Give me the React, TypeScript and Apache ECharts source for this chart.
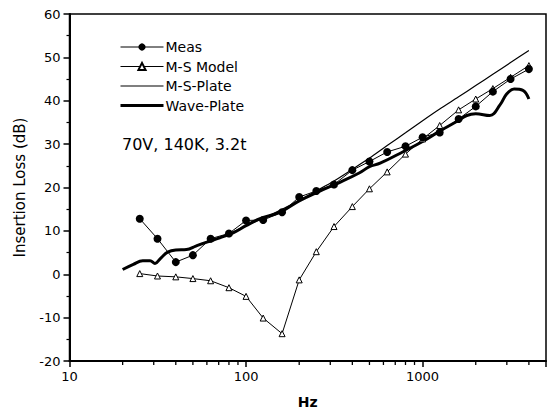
import React, { useEffect, useRef } from "react";
import * as echarts from "echarts";

const measFreq = [25, 31.5, 40, 50, 63, 80, 100, 125, 160, 200, 250, 315, 400, 500, 630, 800, 1000, 1250, 1600, 2000, 2500, 3150, 4000];
const measVals = [12.8, 8.2, 2.8, 4.4, 8.2, 9.4, 12.4, 12.5, 14.3, 17.8, 19.2, 20.7, 24.0, 26.0, 28.2, 29.5, 31.6, 32.7, 35.8, 38.7, 42.1, 45.0, 47.3];

const msModelVals = [0.15, -0.4, -0.6, -1.0, -1.5, -3.1, -5.1, -10.1, -13.7, -1.3, 5.2, 11.0, 15.6, 19.7, 23.6, 27.7, 31.2, 34.3, 37.9, 40.4, 42.8, 45.4, 48.1];

const msPlateFreq = [50, 63, 80, 100, 125, 160, 200, 250, 315, 400, 500, 630, 800, 1000, 1250, 1600, 2000, 2500, 3150, 4000];
const msPlateVals = [6.3, 7.7, 9.3, 11.2, 12.9, 15.0, 17.0, 19.2, 21.5, 24.2, 26.8, 29.7, 32.6, 35.4, 38.1, 40.9, 43.5, 46.1, 48.8, 51.6];

const wavePlateFreq = [20, 23, 26, 28.6, 30.5, 33, 36, 40, 46, 52, 60, 71, 85, 100, 120, 156, 200, 260, 340, 440, 500, 575, 780, 1000, 1250, 1560, 1780, 2000, 2400, 2750, 3000, 3300, 3700, 4000];
const wavePlateVals = [1.1, 2.3, 3.1, 3.1, 2.5, 3.8, 5.1, 5.6, 5.7, 6.5, 7.4, 8.4, 9.6, 11.2, 12.8, 14.3, 16.9, 19.1, 21.2, 23.4, 24.8, 25.6, 28.3, 30.6, 33.0, 35.2, 36.6, 37.0, 36.6, 39.1, 41.6, 42.7, 42.4, 40.4];

const xMinorTicks = [20, 30, 40, 50, 60, 70, 80, 90, 200, 300, 400, 500, 600, 700, 800, 900, 2000, 3000, 4000];

const legendNames = ["Meas", "M-S Model", "M-S-Plate", "Wave-Plate"];
const annotation = "70V, 140K, 3.2t";
const FONT = "DejaVu Sans";

export default function App() {
  const ref = useRef<HTMLDivElement>(null);
  useEffect(() => {
    if (!ref.current) return;
    const chart = echarts.init(ref.current, undefined, { renderer: "svg" });
    const zip = (xs: number[], ys: number[]) => xs.map((x, i) => [x, ys[i]]);
    const hidden = { color: "transparent", borderColor: "transparent", opacity: 0 };
    chart.setOption({
      animation: false,
      backgroundColor: "#fff",
      textStyle: { fontFamily: FONT, color: "#000" },
      grid: {
        left: 69.5,
        right: 8,
        top: 14,
        bottom: 52,
        show: true,
        borderColor: "#000",
        borderWidth: 1.5,
        backgroundColor: "transparent",
      },
      legend: {
        orient: "vertical",
        left: 114,
        top: 35,
        itemWidth: 43,
        itemHeight: 9,
        itemGap: 5.5,
        data: [
          { name: legendNames[0], lineStyle: { width: 1 } },
          { name: legendNames[1], lineStyle: { width: 1 } },
          { name: legendNames[2], itemStyle: hidden, lineStyle: { width: 1.2 } },
          { name: legendNames[3], itemStyle: hidden, lineStyle: { width: 3 } },
        ],
        textStyle: { fontFamily: FONT, fontSize: 14, color: "#000", padding: [0, 0, 0, -3] },
        selectedMode: false,
      },
      graphic: [
        {
          type: "text",
          left: 122,
          top: 136,
          style: { text: annotation, font: `16px "${FONT}"`, fill: "#000" },
        },
      ],
      xAxis: {
        type: "log",
        logBase: 10,
        min: 10,
        max: 5000,
        name: "Hz",
        nameLocation: "middle",
        nameGap: 34,
        nameTextStyle: { fontFamily: FONT, fontSize: 14, fontWeight: "bold", color: "#000" },
        axisLine: { onZero: false, lineStyle: { color: "#000", width: 2 } },
        axisTick: { show: true, length: 6, lineStyle: { color: "#000", width: 1.5 } },
        axisLabel: {
          color: "#000",
          fontFamily: FONT,
          fontSize: 13,
          margin: 9,
          formatter: (v: number) => (v > 4000 ? "" : String(Math.round(v))),
        },
        splitLine: { show: false },
        minorTick: { show: false },
      },
      yAxis: {
        type: "value",
        min: -20,
        max: 60,
        interval: 10,
        name: "Insertion Loss (dB)",
        nameLocation: "middle",
        nameGap: 42,
        nameTextStyle: { fontFamily: FONT, fontSize: 15, color: "#000" },
        axisLine: { show: true, onZero: false, lineStyle: { color: "#000", width: 2 } },
        axisTick: { show: true, length: 6, lineStyle: { color: "#000", width: 1.5 } },
        minorTick: { show: true, splitNumber: 2, length: 3, lineStyle: { color: "#000", width: 1.2 } },
        axisLabel: { color: "#000", fontFamily: FONT, fontSize: 13, margin: 9 },
        splitLine: { show: false },
      },
      series: [
        {
          name: "Meas",
          type: "line",
          data: zip(measFreq, measVals),
          symbol: "circle",
          symbolSize: 8,
          itemStyle: { color: "#000" },
          lineStyle: { color: "#000", width: 1 },
          z: 4,
        },
        {
          name: "M-S Model",
          type: "line",
          data: zip(measFreq, msModelVals),
          symbol: "triangle",
          symbolSize: 6,
          itemStyle: { color: "#fff", borderColor: "#000", borderWidth: 1 },
          lineStyle: { color: "#000", width: 1 },
          z: 3,
        },
        {
          name: "M-S-Plate",
          type: "line",
          data: zip(msPlateFreq, msPlateVals),
          showSymbol: false,
          symbol: "none",
          smooth: 0.3,
          lineStyle: { color: "#000", width: 1.2 },
          itemStyle: { color: "#000" },
          z: 2,
        },
        {
          name: "Wave-Plate",
          type: "line",
          data: zip(wavePlateFreq, wavePlateVals),
          showSymbol: false,
          symbol: "none",
          smooth: 0.4,
          lineStyle: { color: "#000", width: 3 },
          itemStyle: { color: "#000" },
          z: 2,
        },
        {
          name: "xminor",
          type: "custom",
          silent: true,
          clip: false,
          data: xMinorTicks.map((f) => [f, -20]),
          encode: { x: 0, y: 1 },
          renderItem: (params: any, api: any) => {
            const p = api.coord([api.value(0), api.value(1)]);
            return {
              type: "line",
              shape: { x1: p[0], y1: p[1], x2: p[0], y2: p[1] + 4 },
              style: { stroke: "#000", lineWidth: 1.3 },
            };
          },
          z: 5,
        },
      ],
    });
    return () => chart.dispose();
  }, []);
  return <div ref={ref} style={{ width: 554, height: 414, position: "absolute", left: 0, top: 0 }} />;
}
